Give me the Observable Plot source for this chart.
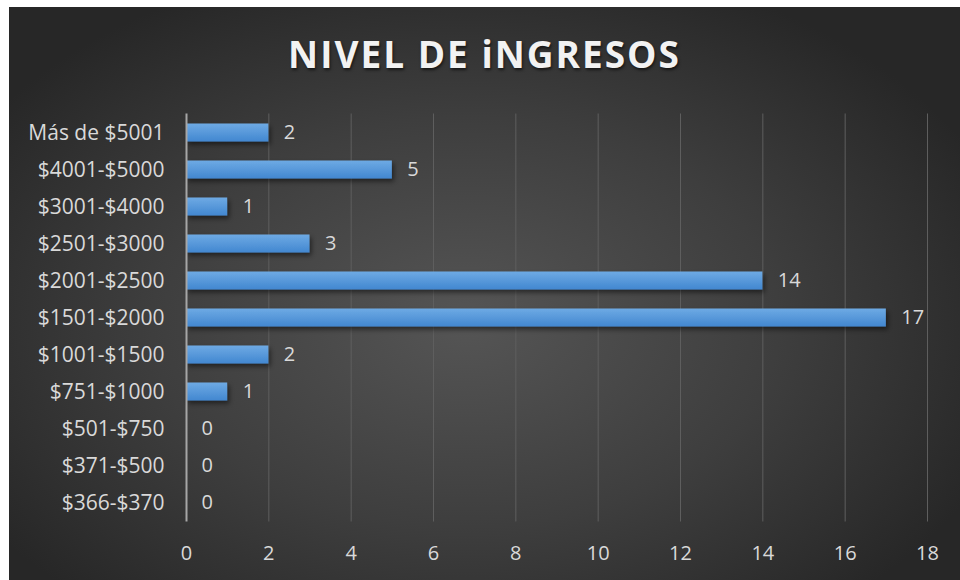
<!DOCTYPE html>
<html>
<head>
<meta charset="utf-8">
<script src="https://cdn.jsdelivr.net/npm/d3@7"></script>
<script src="https://cdn.jsdelivr.net/npm/@observablehq/plot@0.6"></script>
<style>
  html, body { margin: 0; padding: 0; background: #ffffff; }
  #wrap { position: relative; width: 960px; height: 580px; overflow: hidden; }
  #bg { position: absolute; left: 9px; top: 7px; width: 951px; height: 573px;
        background: radial-gradient(ellipse 60% 65% at 48% 55%, #555555 0%, #3e3e3e 55%, #272727 100%); }
  #title { position: absolute; left: 9px; width: 951px; top: 32px; text-align: center;
           font-family: "Open Sans", sans-serif; font-weight: 700; font-size: 37px;
           letter-spacing: 2px; color: #f2f2f2; text-shadow: 1px 2px 3px rgba(0,0,0,0.6); line-height: 1.2; }
  #chart { position: absolute; left: 0; top: 0; }
</style>
</head>
<body>
<svg width="0" height="0" style="position:absolute">
  <defs>
    <linearGradient id="barGrad" x1="0" y1="0" x2="0" y2="1">
      <stop offset="0" stop-color="#6eaae4"/>
      <stop offset="1" stop-color="#4287d0"/>
    </linearGradient>
    <filter id="barShadow" x="-10%" y="-50%" width="130%" height="250%">
      <feDropShadow dx="2" dy="3" stdDeviation="2.5" flood-color="#000" flood-opacity="0.5"/>
    </filter>
  </defs>
</svg>
<div id="wrap">
  <div id="bg"></div>
  <div id="title">NIVEL DE iNGRESOS</div>
  <div id="chart"></div>
</div>
<script>
const categories = ["Más de $5001", "$4001-$5000", "$3001-$4000", "$2501-$3000", "$2001-$2500",
  "$1501-$2000", "$1001-$1500", "$751-$1000", "$501-$750", "$371-$500", "$366-$370"];
const values = [2, 5, 1, 3, 14, 17, 2, 1, 0, 0, 0];
const xTicks = [0, 2, 4, 6, 8, 10, 12, 14, 16, 18];

const data = categories.map((c, i) => ({ category: c, value: values[i] }));
const font = "'Open Sans', sans-serif";
const textColor = "#d9d9d9";

const chart = Plot.plot({
  width: 960,
  height: 580,
  marginLeft: 186,
  marginRight: 33,
  marginTop: 113.5,
  marginBottom: 58.5,
  style: { background: "transparent", fontFamily: font, color: textColor },
  x: { domain: [0, 18], ticks: xTicks },
  y: { domain: categories, padding: 0 },
  marks: [
    Plot.gridX(xTicks.filter(d => d > 0), { stroke: "#5e5e5e", strokeOpacity: 1, strokeWidth: 1 }),
    Plot.axisX(xTicks, { tickSize: 0, tickPadding: 24, fontSize: 20, fill: textColor, label: null }),
    Plot.axisY({ tickSize: 0, tickPadding: 22, fontSize: 21, fill: textColor, label: null }),
    Plot.barX(data, { x: "value", y: "category", fill: "url(#barGrad)", insetTop: 9.5, insetBottom: 9.5 }),
    Plot.ruleX([0], { stroke: "#a6a6a6", strokeWidth: 2 }),
    Plot.text(data, { x: "value", y: "category", text: d => String(d.value), textAnchor: "start",
      dx: 15, fontSize: 20, fill: textColor })
  ]
});
chart.querySelectorAll("g[aria-label='bar']").forEach(g => g.setAttribute("filter", "url(#barShadow)"));
document.getElementById("chart").appendChild(chart);
</script>
</body>
</html>
